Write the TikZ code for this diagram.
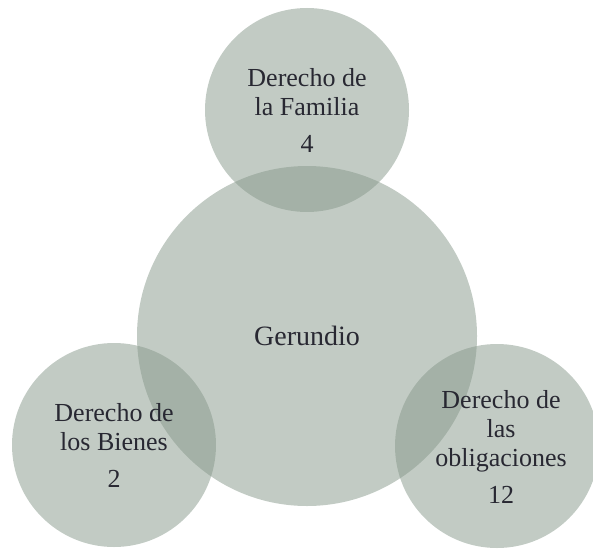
\documentclass[tikz,border=0pt]{standalone}
\usepackage{fontspec}
\setmainfont{Liberation Serif}
\definecolor{bubblegreen}{RGB}{134,152,138}
\definecolor{labelgrey}{RGB}{40,40,50}
\begin{document}
\begin{tikzpicture}[x=1pt,y=1pt,
                        bubble/.style={circle,fill=bubblegreen,fill opacity=0.5,text opacity=1,
                                       text=labelgrey,align=center,inner sep=0pt,font=\fontsize{26}{29}\selectfont}]
                        \useasboundingbox (0,0) rectangle (593,550);
                        \clip (0,0) rectangle (593,550);
                        \node[bubble,minimum size=340pt,font=\fontsize{28}{31}\selectfont] (gerundio) at (307,214) {Gerundio};
                        \node[bubble,minimum size=204pt] (familia) at (307,440) {Derecho de\\la Familia\\[8pt]4};
                        \node[bubble,minimum size=204pt] (bienes) at (114,105) {Derecho de\\los Bienes\\[8pt]2};
                        \node[bubble,minimum size=204pt] (obligaciones) at (497,104) {};
                        \node[text=labelgrey,align=center,font=\fontsize{26}{29}\selectfont] (obligtext) at (501,103) {Derecho de\\las\\obligaciones\\[8pt]12};
                    \end{tikzpicture}
\end{document}
